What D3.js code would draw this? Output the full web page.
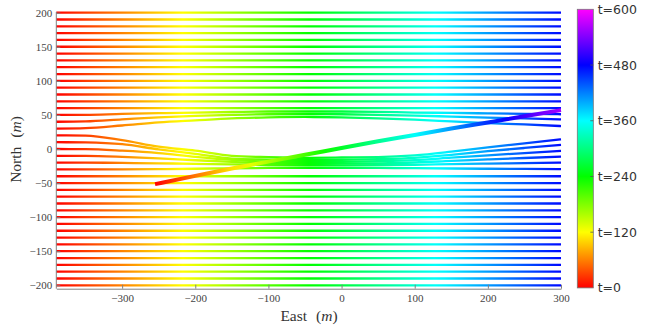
<!DOCTYPE html>
<html>
<head>
<meta charset="utf-8">
<script src="https://cdn.jsdelivr.net/npm/d3@7"></script>
<style>
  html, body { margin: 0; padding: 0; background: #fff; }
  svg { display: block; }
</style>
</head>
<body>
<svg id="chart" width="652" height="329"></svg>
<script>
// East (m) positions at which every streamline is sampled
const eastGrid = [-390, -350, -300, -250, -200, -150, -100, -50, 0, 50, 100, 150, 200, 250, 300];

// North (m) at which each streamline is released on the western edge
const releaseNorth = [-200, -190, -180, -170, -160, -150, -140, -130, -120, -110,
                      -100, -90, -80, -70, -60, -50, -40, -30, -20, -10,
                      0, 10, 20, 30, 40, 50, 60, 70, 80, 90,
                      100, 110, 120, 130, 140, 150, 160, 170, 180, 190, 200];

// Streamlines deflected by the passing vessel: North (m) along eastGrid
const deflectedN50 = [50, 50.2, 51.5, 52.5, 53.5, 54.3, 55, 55, 55, 54.5, 53.5, 53, 52.2, 51.5, 51];
const deflectedN40 = [40, 40.5, 43.5, 46.5, 48.5, 50, 51, 51.2, 51, 50.2, 49, 47.5, 46, 44.8, 43.5];
const deflectedN30 = [30, 30.6, 34.5, 39, 42, 44.8, 46.3, 47, 46.5, 45, 43, 40.5, 38, 36, 33.7];
const deflectedN20 = [20, 19.6, 13, 3.4, -2.5, -10, -12, -13, -12.5, -12, -9.5, -4, 2.5, 8.3, 14.2];
const deflectedN10 = [10, 9.6, 7, -0.5, -7, -14, -15.5, -16.3, -16, -15, -13, -8.5, -3.2, 1.5, 5.9];
const deflectedN0  = [0, -0.2, -2.5, -6, -11.5, -16, -18.5, -19.3, -19, -18, -16.3, -12.8, -9.3, -6, -2.9];
const deflectedS10 = [-10, -10.1, -11.5, -13.7, -16.5, -19, -21, -21.7, -21.5, -21, -19.8, -17.5, -15.3, -13.2, -11.3];
const deflectedS20 = [-20, -20, -20.5, -21, -21.8, -22.5, -23.5, -24, -24, -23.8, -23.2, -22.3, -21.5, -20.8, -20];
const deflectedS30 = [-30, -30, -29.8, -29.5, -29, -28.3, -27.8, -27.6, -27.6, -27.8, -28.2, -28.6, -29, -29.3, -29.5];

// Vessel track: East (m), North (m), time (s)
const trackEast  = [-255, -200, -150, -100, -50, 0, 50, 100, 150, 200, 250, 300];
const trackNorth = [-51.5, -39.5, -28.5, -18.5, -8.5, 1.5, 11.5, 20.5, 30, 39, 48, 57];
const trackTime  = [0, 55, 106, 157, 207, 258, 308, 358, 409, 459, 510, 560];

// drift speed of the tracer particles (m/s)
const streamSpeed = 1.45;

const xTicks = [-300, -200, -100, 0, 100, 200, 300];
const yTicks = [-200, -150, -100, -50, 0, 50, 100, 150, 200];
const timeTicks = [0, 120, 240, 360, 480, 600];
const timeMax = 600;

// ---------------------------------------------------------------------
const deflected = new Map([
  [50, deflectedN50], [40, deflectedN40], [30, deflectedN30],
  [20, deflectedN20], [10, deflectedN10], [0, deflectedN0],
  [-10, deflectedS10], [-20, deflectedS20], [-30, deflectedS30]
]);

const svg = d3.select("#chart");
const x = d3.scaleLinear().domain([-390, 300]).range([56.3, 561]);
const y = d3.scaleLinear().domain([-205, 200]).range([288.7, 12.7]);

// hsv colormap: red (t=0) -> magenta (t=600)
const hue = d3.scaleLinear().domain([0, timeMax]).range([0, 300]);
const timeColor = t => d3.hsl(hue(t), 1, 0.5).formatHex();

const defs = svg.append("defs");

// horizontal gradient shared by all streamlines (colour = travel time)
const sg = defs.append("linearGradient")
  .attr("id", "streamGrad")
  .attr("gradientUnits", "userSpaceOnUse")
  .attr("x1", x(-390)).attr("x2", x(300))
  .attr("y1", 0).attr("y2", 0);
const nStops = 48;
for (let i = 0; i <= nStops; i++) {
  const e = -390 + (690 * i) / nStops;
  sg.append("stop")
    .attr("offset", i / nStops)
    .attr("stop-color", timeColor((e + 390) / streamSpeed));
}

// gradient for the vessel track
const tg = defs.append("linearGradient")
  .attr("id", "trackGrad")
  .attr("gradientUnits", "userSpaceOnUse")
  .attr("x1", x(trackEast[0])).attr("x2", x(trackEast[trackEast.length - 1]))
  .attr("y1", 0).attr("y2", 0);
const span = trackEast[trackEast.length - 1] - trackEast[0];
trackEast.forEach((e, i) => {
  const off = (e - trackEast[0]) / span;
  tg.append("stop").attr("offset", off).attr("stop-color", timeColor(trackTime[i]));
  if (i < trackEast.length - 1) {
    // mid stops keep the hue sweep smooth between samples
    const t2 = (trackTime[i] + trackTime[i + 1]) / 2;
    const off2 = ((e + trackEast[i + 1]) / 2 - trackEast[0]) / span;
    tg.append("stop").attr("offset", off2).attr("stop-color", timeColor(t2));
  }
});

// vertical gradient for the colorbar
const cg = defs.append("linearGradient")
  .attr("id", "cbGrad")
  .attr("x1", 0).attr("x2", 0).attr("y1", 1).attr("y2", 0);
for (let i = 0; i <= 40; i++) {
  cg.append("stop").attr("offset", i / 40).attr("stop-color", timeColor(timeMax * i / 40));
}

const line = d3.line()
  .x(d => x(d[0]))
  .y(d => y(d[1]))
  .curve(d3.curveMonotoneX);

// streamlines
const streams = releaseNorth.map(n => {
  const ys = deflected.get(n) || eastGrid.map(() => n);
  return eastGrid.map((e, i) => [e, ys[i]]);
});

svg.append("g")
  .selectAll("path")
  .data(streams)
  .join("path")
  .attr("d", line)
  .attr("fill", "none")
  .attr("stroke", "url(#streamGrad)")
  .attr("stroke-width", 2.3);

// vessel track
svg.append("path")
  .datum(trackEast.map((e, i) => [e, trackNorth[i]]))
  .attr("d", line)
  .attr("fill", "none")
  .attr("stroke", "url(#trackGrad)")
  .attr("stroke-width", 4);

// axes
const axisColor = "#808080";
const gx = svg.append("g")
  .attr("transform", `translate(0,${y(-205)})`)
  .call(d3.axisBottom(x).tickValues(xTicks).tickSizeInner(-4).tickSizeOuter(0).tickPadding(6));
const gy = svg.append("g")
  .attr("transform", `translate(${x(-390)},0)`)
  .call(d3.axisLeft(y).tickValues(yTicks).tickSizeInner(-4).tickSizeOuter(0).tickPadding(4));
[gx, gy].forEach(g => {
  g.select(".domain").attr("stroke", axisColor);
  g.selectAll(".tick line").attr("stroke", axisColor);
  g.selectAll(".tick text")
    .attr("fill", "#444")
    .style("font-family", "'Liberation Serif', 'DejaVu Serif', serif")
    .style("font-size", "11px");
});
gy.select(".domain").attr("d", `M0,${y(-205)}V${y(200) - 0.7}`);

// axis titles
const serif = "'Liberation Serif', 'DejaVu Serif', serif";
const xt = svg.append("text")
  .attr("x", 309).attr("y", 320.5)
  .attr("text-anchor", "middle")
  .attr("fill", "#333")
  .style("font-family", serif)
  .style("font-size", "15.5px");
xt.append("tspan").text("East");
xt.append("tspan").attr("dx", 9).text("(");
xt.append("tspan").style("font-style", "italic").text("m");
xt.append("tspan").text(")");

const yt = svg.append("text")
  .attr("transform", `translate(20.7,149.5) rotate(-90)`)
  .attr("text-anchor", "middle")
  .attr("fill", "#333")
  .style("font-family", serif)
  .style("font-size", "15.5px");
yt.append("tspan").text("North");
yt.append("tspan").attr("dx", 9).text("(");
yt.append("tspan").style("font-style", "italic").text("m");
yt.append("tspan").text(")");

// colorbar
const cbY = d3.scaleLinear().domain([0, timeMax]).range([287.9, 9.3]);
const cbX = 577.3, cbW = 16;
svg.append("rect")
  .attr("x", cbX).attr("y", cbY(timeMax))
  .attr("width", cbW).attr("height", cbY(0) - cbY(timeMax))
  .attr("fill", "url(#cbGrad)")
  .attr("stroke", "#777").attr("stroke-width", 0.8);
svg.append("g")
  .selectAll("line")
  .data(timeTicks.slice(1, -1))
  .join("line")
  .attr("x1", cbX + cbW - 3).attr("x2", cbX + cbW)
  .attr("y1", d => cbY(d)).attr("y2", d => cbY(d))
  .attr("stroke", "#555").attr("stroke-width", 0.8);
svg.append("g")
  .selectAll("text")
  .data(timeTicks)
  .join("text")
  .attr("x", 597.7)
  .attr("y", d => cbY(d))
  .attr("dy", "0.36em")
  .attr("fill", "#333")
  .style("font-family", "'DejaVu Sans', sans-serif")
  .style("font-size", "12.5px")
  .text(d => `t=${d}`);
</script>
</body>
</html>
